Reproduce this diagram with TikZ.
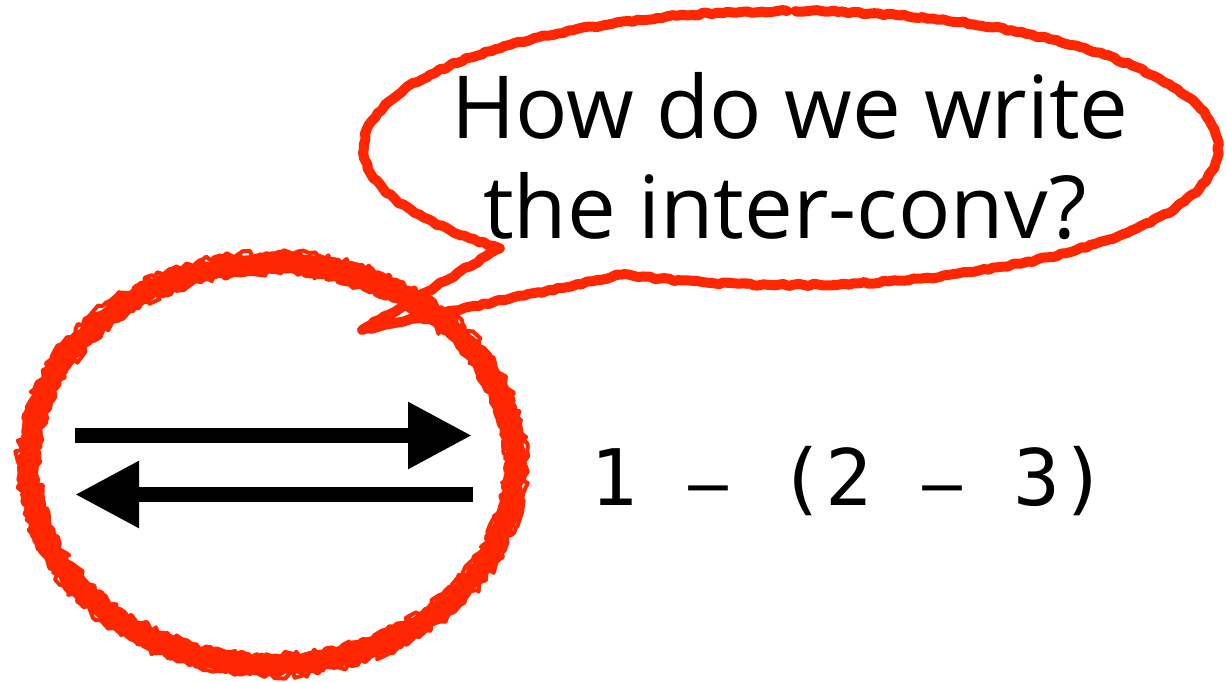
\documentclass[tikz,border=0pt]{standalone}
\usepackage{fontspec}
\newfontfamily\bubfont{Open Sans}
\newfontfamily\monofont{DejaVu Sans Mono}
\usetikzlibrary{arrows.meta,decorations.pathmorphing,calc}
\definecolor{chalk}{RGB}{255,38,0}
\newcommand\wdash{\makebox[0.602em][c]{\scalebox{2}[0.8]{-}}}
\tikzset{
  bigarrow/.style={line width=15pt, line cap=butt, -{Triangle[length=64pt,width=63pt]}},
  rough/.style={draw=chalk, line join=round, line cap=round, decorate,
    decoration={random steps, segment length=5pt, amplitude=#1}},
  bubtext/.style={anchor=base, inner sep=0pt, font=\bubfont\fontsize{87}{100}\selectfont},
  monotext/.style={anchor=base west, inner sep=0pt, font=\monofont\fontsize{78}{85}\selectfont}
}
\begin{document}
\begin{tikzpicture}[x=1pt,y=-1pt]
\useasboundingbox (0,0) rectangle (1227,681);
\fill[white] (0,0) rectangle (1227,681);

% speech bubble
\foreach \s/\w/\a in {21/10/1.2pt, 22/4/2.2pt, 23/3/3pt}{
  \pgfmathsetseed{\s}
  \draw[rough=\a, line width=\w pt]
    ({791+427*cos(-90.5)},{148+137*sin(-90.5)})
    arc[start angle=-90.5, end angle=-227, x radius=427, y radius=137]
    -- (362,330)
    -- ({791+427*cos(-247)},{148+137*sin(-247)})
    arc[start angle=-247, end angle=-449.4, x radius=427, y radius=137];
}

% hand-drawn circle
\foreach \s/\w/\a/\dr in {11/18/2pt/0, 12/7/3.5pt/7, 13/7/3.5pt/-7, 14/4/4pt/10, 15/4/4pt/-9}{
  \pgfmathsetseed{\s}
  \draw[rough=\a, line width=\w pt] (272,464) ellipse[x radius=243+\dr, y radius=201+\dr];
}

% arrows
\coordinate (r1) at (75,435.5);
\coordinate (r2) at (472,435.5);
\coordinate (l1) at (473,494.5);
\coordinate (l2) at (75,494.5);
\draw[bigarrow] (r1) -- (r2);
\draw[bigarrow] (l1) -- (l2);

% texts
\node[bubtext] (q1) at (790,138) {How do we write};
\node[bubtext] (q2) at (785,238) {the inter-conv?};
\node[monotext] (expr) at (590.5,505) {1 \wdash{} (2 \wdash{} 3)};
\end{tikzpicture}
\end{document}
